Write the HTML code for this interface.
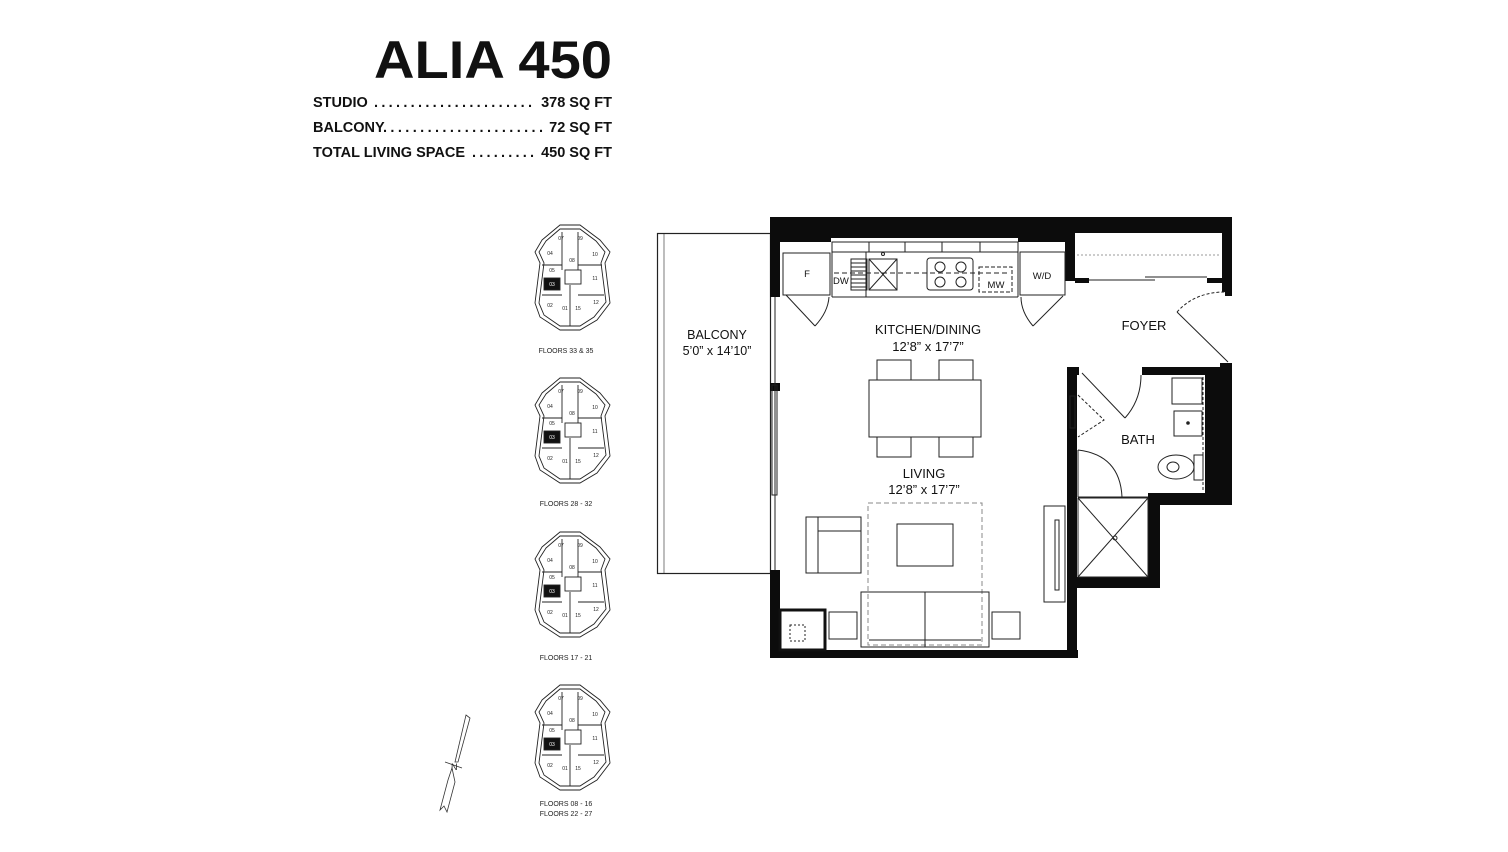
<!DOCTYPE html>
<html><head><meta charset="utf-8"><style>
html,body{margin:0;padding:0;background:#fff;}
svg{display:block;font-family:"Liberation Sans",sans-serif;}
</style></head><body>
<svg width="1508" height="852" viewBox="0 0 1508 852" xmlns="http://www.w3.org/2000/svg">
<rect width="1508" height="852" fill="#fff"/>
<!-- Title -->
<text x="612" y="78" text-anchor="end" font-size="53" font-weight="bold" fill="#111" textLength="238" lengthAdjust="spacingAndGlyphs">ALIA 450</text>
<g font-size="14.5" font-weight="bold" fill="#111">
<text x="313" y="107">STUDIO</text><text x="374" y="107" textLength="158" lengthAdjust="spacing">......................</text><text x="612" y="107" text-anchor="end">378 SQ FT</text>
<text x="313" y="132">BALCONY</text><text x="383" y="132" textLength="160" lengthAdjust="spacing">......................</text><text x="612" y="132" text-anchor="end">72 SQ FT</text>
<text x="313" y="157">TOTAL LIVING SPACE</text><text x="472" y="157" textLength="62" lengthAdjust="spacing">.........</text><text x="612" y="157" text-anchor="end">450 SQ FT</text>
</g>

<!-- Key plans -->
<g transform="translate(520,220)" stroke="#222" stroke-width="0.9" fill="none" font-size="5" >
<polygon points="22,20 40,5 60,5 80,20 90,32 85,43 90,83 77,100 60,110 40,110 20,97 15,83 20,43 15,32"/>
<polygon points="26,21 40,9 60,9 76,21 85,32 81,43 86,82 74,97 60,106 40,106 24,95 19,83 24,43 19,32"/>
<line x1="42" y1="12" x2="42" y2="50"/><line x1="58" y1="12" x2="58" y2="50"/>
<line x1="22" y1="45" x2="42" y2="45"/><line x1="58" y1="45" x2="82" y2="45"/>
<line x1="22" y1="75" x2="42" y2="75"/><line x1="58" y1="75" x2="84" y2="75"/>
<line x1="50" y1="65" x2="50" y2="106"/><rect x="45" y="50" width="16" height="14"/>
<rect x="24" y="58" width="16" height="12" fill="#111"/>
<g fill="#222" stroke="none" text-anchor="middle">
<text x="41" y="20">07</text><text x="60" y="20">09</text><text x="30" y="35">04</text><text x="75" y="36">10</text>
<text x="52" y="42">08</text><text x="32" y="52">05</text><text x="75" y="60">11</text><text x="32" y="66" fill="#fff">03</text>
<text x="30" y="87">02</text><text x="45" y="90">01</text><text x="58" y="90">15</text><text x="76" y="84">12</text>
</g>
<text x="46" y="133" text-anchor="middle" fill="#222" stroke="none" font-size="7">FLOORS 33 &amp; 35</text>
</g>
<g transform="translate(0,153)"><g transform="translate(520,220)" stroke="#222" stroke-width="0.9" fill="none" font-size="5">
<polygon points="22,20 40,5 60,5 80,20 90,32 85,43 90,83 77,100 60,110 40,110 20,97 15,83 20,43 15,32"/>
<polygon points="26,21 40,9 60,9 76,21 85,32 81,43 86,82 74,97 60,106 40,106 24,95 19,83 24,43 19,32"/>
<line x1="42" y1="12" x2="42" y2="50"/><line x1="58" y1="12" x2="58" y2="50"/>
<line x1="22" y1="45" x2="42" y2="45"/><line x1="58" y1="45" x2="82" y2="45"/>
<line x1="22" y1="75" x2="42" y2="75"/><line x1="58" y1="75" x2="84" y2="75"/>
<line x1="50" y1="65" x2="50" y2="106"/><rect x="45" y="50" width="16" height="14"/>
<rect x="24" y="58" width="16" height="12" fill="#111"/>
<g fill="#222" stroke="none" text-anchor="middle">
<text x="41" y="20">07</text><text x="60" y="20">09</text><text x="30" y="35">04</text><text x="75" y="36">10</text>
<text x="52" y="42">08</text><text x="32" y="52">05</text><text x="75" y="60">11</text><text x="32" y="66" fill="#fff">03</text>
<text x="30" y="87">02</text><text x="45" y="90">01</text><text x="58" y="90">15</text><text x="76" y="84">12</text>
</g>
<text x="46" y="133" text-anchor="middle" fill="#222" stroke="none" font-size="7">FLOORS 28 - 32</text>
</g></g>
<g transform="translate(0,307)"><g transform="translate(520,220)" stroke="#222" stroke-width="0.9" fill="none" font-size="5">
<polygon points="22,20 40,5 60,5 80,20 90,32 85,43 90,83 77,100 60,110 40,110 20,97 15,83 20,43 15,32"/>
<polygon points="26,21 40,9 60,9 76,21 85,32 81,43 86,82 74,97 60,106 40,106 24,95 19,83 24,43 19,32"/>
<line x1="42" y1="12" x2="42" y2="50"/><line x1="58" y1="12" x2="58" y2="50"/>
<line x1="22" y1="45" x2="42" y2="45"/><line x1="58" y1="45" x2="82" y2="45"/>
<line x1="22" y1="75" x2="42" y2="75"/><line x1="58" y1="75" x2="84" y2="75"/>
<line x1="50" y1="65" x2="50" y2="106"/><rect x="45" y="50" width="16" height="14"/>
<rect x="24" y="58" width="16" height="12" fill="#111"/>
<g fill="#222" stroke="none" text-anchor="middle">
<text x="41" y="20">07</text><text x="60" y="20">09</text><text x="30" y="35">04</text><text x="75" y="36">10</text>
<text x="52" y="42">08</text><text x="32" y="52">05</text><text x="75" y="60">11</text><text x="32" y="66" fill="#fff">03</text>
<text x="30" y="87">02</text><text x="45" y="90">01</text><text x="58" y="90">15</text><text x="76" y="84">12</text>
</g>
<text x="46" y="133" text-anchor="middle" fill="#222" stroke="none" font-size="7">FLOORS 17 - 21</text>
</g></g>
<g transform="translate(0,460)"><g transform="translate(520,220)" stroke="#222" stroke-width="0.9" fill="none" font-size="5">
<polygon points="22,20 40,5 60,5 80,20 90,32 85,43 90,83 77,100 60,110 40,110 20,97 15,83 20,43 15,32"/>
<polygon points="26,21 40,9 60,9 76,21 85,32 81,43 86,82 74,97 60,106 40,106 24,95 19,83 24,43 19,32"/>
<line x1="42" y1="12" x2="42" y2="50"/><line x1="58" y1="12" x2="58" y2="50"/>
<line x1="22" y1="45" x2="42" y2="45"/><line x1="58" y1="45" x2="82" y2="45"/>
<line x1="22" y1="75" x2="42" y2="75"/><line x1="58" y1="75" x2="84" y2="75"/>
<line x1="50" y1="65" x2="50" y2="106"/><rect x="45" y="50" width="16" height="14"/>
<rect x="24" y="58" width="16" height="12" fill="#111"/>
<g fill="#222" stroke="none" text-anchor="middle">
<text x="41" y="20">07</text><text x="60" y="20">09</text><text x="30" y="35">04</text><text x="75" y="36">10</text>
<text x="52" y="42">08</text><text x="32" y="52">05</text><text x="75" y="60">11</text><text x="32" y="66" fill="#fff">03</text>
<text x="30" y="87">02</text><text x="45" y="90">01</text><text x="58" y="90">15</text><text x="76" y="84">12</text>
</g>
<text x="46" y="126" text-anchor="middle" fill="#222" stroke="none" font-size="7">FLOORS 08 - 16</text>
<text x="46" y="136" text-anchor="middle" fill="#222" stroke="none" font-size="7">FLOORS 22 - 27</text>
</g></g>

<!-- North arrow -->
<g stroke="#333" stroke-width="0.8" fill="none">
<polygon points="466,715 470,718 458,762 455,762"/>
<polygon points="452,768 448,780 440,810 444,806 447,812 455,782"/>
<line x1="445" y1="762" x2="462" y2="768"/>
<text x="451" y="770" font-size="9" fill="#222" stroke="none">N</text>
</g>

<!-- Balcony -->
<rect x="657.5" y="233.5" width="113" height="340" fill="none" stroke="#222" stroke-width="1.2"/>
<line x1="664" y1="234" x2="664" y2="573" stroke="#444" stroke-width="0.7"/>
<text x="717" y="339" text-anchor="middle" font-size="12.5" fill="#111">BALCONY</text>
<text x="717" y="355" text-anchor="middle" font-size="12.5" fill="#111">5’0” x 14’10”</text>

<!-- Walls -->
<g fill="#0c0c0c">
<rect x="773" y="217" width="300" height="21"/>
<rect x="773" y="238" width="58" height="4"/>
<rect x="1018" y="238" width="47" height="4"/>
<rect x="1073" y="217" width="159" height="16"/>
<rect x="1065" y="217" width="10" height="64"/>
<rect x="1222" y="217" width="10" height="75"/>
<rect x="770" y="217" width="10" height="80"/>
<rect x="770" y="383" width="10" height="8"/>
<rect x="770" y="570" width="10" height="88"/>
<rect x="770" y="650" width="308" height="8"/>
<rect x="1067" y="367" width="10" height="291"/>
<rect x="1067" y="367" width="12" height="8"/>
<rect x="1142" y="367" width="90" height="8"/>
<rect x="1205" y="367" width="27" height="138"/>
<rect x="1148" y="493" width="84" height="12"/>
<rect x="1148" y="493" width="12" height="95"/>
<rect x="1067" y="577" width="93" height="11"/>
<rect x="1220" y="363" width="12" height="6"/>
<rect x="1075" y="278" width="14" height="5"/>
<rect x="1207" y="278" width="15" height="5"/>
<rect x="1225" y="290" width="7" height="6"/>
</g>
<g fill="none" stroke="#222" stroke-width="1">
<line x1="775" y1="297" x2="775" y2="570"/>
<rect x="772" y="385" width="5" height="110"/>
<line x1="1077" y1="255" x2="1220" y2="255" stroke="#999" stroke-dasharray="2,2"/>
<line x1="1089" y1="280" x2="1155" y2="280"/><line x1="1145" y1="277" x2="1207" y2="277"/>
<rect x="832" y="242" width="186" height="10"/>
<line x1="869" y1="242" x2="869" y2="252"/><line x1="905" y1="242" x2="905" y2="252"/><line x1="942" y1="242" x2="942" y2="252"/><line x1="980" y1="242" x2="980" y2="252"/>
<line x1="832" y1="252" x2="832" y2="297"/><line x1="832" y1="297" x2="1018" y2="297"/><line x1="1018" y1="252" x2="1018" y2="297"/>
<line x1="866" y1="252" x2="866" y2="297"/>
<line x1="834" y1="273" x2="1010" y2="273" stroke-dasharray="5,3"/>
<rect x="851" y="259" width="16" height="31"/>
<line x1="851" y1="263" x2="867" y2="263"/><line x1="851" y1="267" x2="867" y2="267"/><line x1="851" y1="271" x2="867" y2="271"/><line x1="851" y1="275" x2="867" y2="275"/><line x1="851" y1="279" x2="867" y2="279"/><line x1="851" y1="283" x2="867" y2="283"/><line x1="851" y1="287" x2="867" y2="287"/>
<rect x="869" y="259" width="28" height="31"/><line x1="869" y1="259" x2="897" y2="290"/><line x1="897" y1="259" x2="869" y2="290"/>
<circle cx="883" cy="254" r="1.5"/>
<rect x="927" y="258" width="46" height="32" rx="3"/>
<circle cx="940" cy="267" r="5"/><circle cx="961" cy="267" r="5"/><circle cx="940" cy="282" r="5"/><circle cx="961" cy="282" r="5"/>
<rect x="979" y="267" width="33" height="25" stroke-dasharray="4,2"/>
<rect x="783" y="253" width="47" height="42"/>
<rect x="1020" y="252" width="45" height="43"/>
<line x1="786" y1="295" x2="815" y2="326"/><path d="M815,326 Q828,312 829,297"/>
<line x1="1063" y1="296" x2="1033" y2="326"/><path d="M1033,326 Q1021,312 1021,297"/>
<line x1="1228" y1="362" x2="1177" y2="312"/><path d="M1177,312 Q1195,292 1225,292" stroke-dasharray="3,2"/>
<line x1="1082" y1="373" x2="1125" y2="418"/><path d="M1125,418 Q1141,400 1141,375" />
<rect x="1070" y="396" width="5" height="32"/>
<path d="M1078,395 L1104,420 L1078,437" stroke-dasharray="3,2"/>
<path d="M1078,450 Q1120,455 1122,497"/><line x1="1078" y1="450" x2="1078" y2="497"/>
<line x1="1078" y1="497" x2="1148" y2="497"/>
<rect x="1078" y="498" width="70" height="79"/><line x1="1078" y1="498" x2="1148" y2="577"/><line x1="1148" y1="498" x2="1078" y2="577"/><circle cx="1115" cy="538" r="2"/>
<rect x="1172" y="378" width="30" height="26"/>
<rect x="1174" y="411" width="28" height="25"/><circle cx="1188" cy="423" r="1.3" fill="#222"/>
<line x1="1203" y1="377" x2="1203" y2="492" stroke-dasharray="3,2"/>
<ellipse cx="1176" cy="467" rx="18" ry="12"/><ellipse cx="1173" cy="467" rx="6" ry="5"/>
<rect x="1194" y="455" width="9" height="25"/>
<rect x="869" y="380" width="112" height="57"/>
<rect x="877" y="360" width="34" height="20"/><rect x="939" y="360" width="34" height="20"/>
<rect x="877" y="437" width="34" height="20"/><rect x="939" y="437" width="34" height="20"/>
<rect x="868" y="503" width="114" height="142" stroke="#888" stroke-dasharray="5,3"/>
<rect x="897" y="524" width="56" height="42"/>
<rect x="806" y="517" width="55" height="56"/><line x1="818" y1="517" x2="818" y2="573"/><line x1="818" y1="531" x2="861" y2="531"/>
<rect x="861" y="592" width="128" height="55"/><line x1="925" y1="592" x2="925" y2="647"/><line x1="869" y1="640" x2="981" y2="640"/>
<rect x="829" y="612" width="28" height="27"/><rect x="992" y="612" width="28" height="27"/>
<rect x="1044" y="506" width="21" height="96"/><rect x="1055" y="520" width="4" height="70"/>
<rect x="780" y="610" width="45" height="40" stroke-width="3" stroke="#111"/>
<rect x="790" y="625" width="15" height="16" stroke-dasharray="2,2"/>
</g>
<g font-size="9.5" fill="#111">
<text x="807" y="277" text-anchor="middle">F</text>
<text x="833" y="284">DW</text>
<text x="996" y="288" text-anchor="middle">MW</text>
<text x="1042" y="279" text-anchor="middle">W/D</text>
</g>
<g font-size="13" fill="#111" text-anchor="middle">
<text x="928" y="334">KITCHEN/DINING</text>
<text x="928" y="351">12’8” x 17’7”</text>
<text x="924" y="478">LIVING</text>
<text x="924" y="494">12’8” x 17’7”</text>
<text x="1144" y="330">FOYER</text>
<text x="1138" y="444">BATH</text>
</g>
</svg>
</body></html>
